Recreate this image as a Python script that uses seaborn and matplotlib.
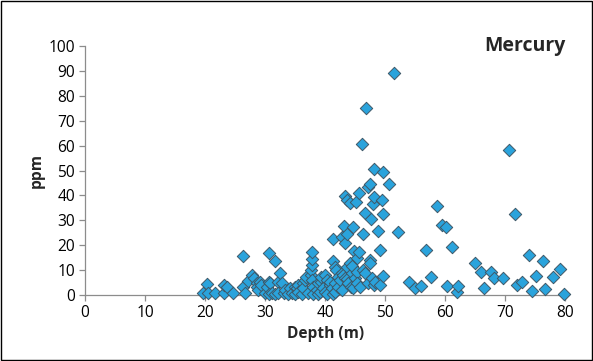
import matplotlib
matplotlib.use("Agg")
import matplotlib.pyplot as plt
import seaborn as sns
import pandas as pd

depth = [19.7, 20.3, 20.5, 21.7, 23.1, 23.1, 23.6, 24.7, 26.4, 26.4, 26.7, 27.2, 27.8, 28.1,
         28.6, 28.6, 28.9, 29.2, 29.4, 30.0, 30.3, 30.6, 30.6, 30.8, 30.6, 31.1, 31.7, 31.7,
         32.2, 32.2, 32.5, 32.8, 33.1, 33.3, 33.9, 34.2, 34.5, 35.0, 35.0, 35.3, 35.5, 35.5,
         36.1, 36.4, 36.4, 36.7, 36.9, 37.2, 37.6, 37.6, 37.8, 37.8, 37.8, 37.8, 38.0, 38.0,
         38.6, 38.9, 38.9, 39.2, 39.4, 39.4, 39.7, 40.0, 40.0, 40.3, 40.3, 40.8, 40.8, 41.1,
         41.3, 41.4, 41.4, 41.7, 41.7, 41.7, 41.9, 42.2, 42.2, 42.5, 42.8, 42.8, 42.8, 43.0,
         43.1, 43.3, 43.3, 43.3, 43.6, 43.6, 43.6, 43.6, 43.9, 44.2, 44.2, 44.4, 44.5, 44.5,
         44.7, 44.7, 44.8, 45.0, 45.1, 45.3, 45.3, 45.3, 45.6, 45.7, 45.8, 46.3, 46.3, 46.2,
         46.7, 46.7, 46.8, 47.2, 47.2, 47.4, 47.5, 47.5, 47.7, 47.8, 47.9, 48.1, 48.1, 48.2,
         48.3, 48.8, 49.1, 49.2, 49.4, 49.6, 49.7, 49.7, 50.7, 51.4, 52.2, 53.9, 55.0, 55.9,
         56.8, 57.6, 58.6, 59.4, 60.2, 60.3, 61.1, 61.9, 62.2, 65.0, 66.0, 66.5, 67.6, 68.2,
         69.6, 70.6, 71.7, 71.9, 72.8, 73.9, 74.4, 75.1, 76.3, 76.7, 77.9, 79.2, 79.8]
ppm = [1.0, 4.4, 1.0, 1.0, 1.0, 4.0, 3.4, 1.0, 15.7, 3.1, 0.7, 5.7, 8.0, 6.7,
       4.7, 3.4, 2.0, 5.3, 4.0, 1.0, 3.4, 16.7, 5.3, 4.7, 0.5, 1.0, 13.8, 0.5,
       5.3, 1.0, 8.7, 4.9, 1.0, 2.0, 0.5, 2.7, 1.0, 3.4, 0.5, 2.7, 4.0, 1.3,
       0.5, 4.7, 2.7, 6.0, 7.3, 1.0, 8.0, 10.0, 12.0, 14.5, 17.4, 6.0, 3.3, 0.5,
       2.0, 4.7, 0.5, 1.3, 5.3, 7.3, 2.7, 8.0, 1.3, 6.0, 0.5, 4.0, 5.3, 2.7,
       13.8, 0.3, 22.4, 11.4, 4.7, 1.3, 10.0, 7.3, 3.4, 6.0, 8.7, 23.2, 2.0, 8.0,
       27.7, 20.8, 39.8, 6.7, 38.2, 24.5, 11.4, 6.3, 4.7, 36.8, 12.7, 3.3, 8.7, 11.6,
       27.4, 2.7, 17.8, 6.7, 37.5, 14.7, 9.4, 4.7, 17.4, 40.8, 3.3, 24.4, 10.0, 60.6,
       33.1, 8.7, 75.1, 43.5, 4.7, 14.0, 44.6, 12.7, 30.4, 6.7, 36.4, 50.6, 4.0, 39.5,
       5.3, 25.8, 18.1, 4.0, 38.2, 49.3, 32.5, 7.6, 44.6, 89.3, 25.4, 5.4, 2.7, 3.6,
       18.1, 7.1, 35.9, 28.1, 27.4, 3.6, 19.4, 1.3, 3.6, 12.7, 9.4, 2.7, 9.4, 7.0,
       7.0, 58.2, 32.5, 4.0, 5.1, 16.1, 1.7, 7.6, 13.7, 2.3, 7.4, 10.3, 0.4]

x_ticks = [0, 10, 20, 30, 40, 50, 60, 70, 80]
y_ticks = [0, 10, 20, 30, 40, 50, 60, 70, 80, 90, 100]

df = pd.DataFrame({"Depth": depth, "ppm": ppm})

sns.set_style("white")
plt.rcParams['font.family'] = ['Open Sans', 'DejaVu Sans']

fig = plt.figure(figsize=(5.93, 3.61), dpi=100)
ax = fig.add_axes([0.1433, 0.1828, 0.8098, 0.6898])

sns.scatterplot(data=df, x="Depth", y="ppm", marker="D", s=40,
                color="#2AA3DC", edgecolor="#3e5868", linewidth=0.7, ax=ax, zorder=3, clip_on=False)

ax.set_xlim(0, 80)
ax.set_ylim(0, 100)
ax.set_xticks(x_ticks)
ax.set_yticks(y_ticks)
ax.set_xticklabels([str(t) for t in x_ticks], fontsize=11.2)
ax.set_yticklabels([str(t) for t in y_ticks], fontsize=11.2)
for s in ["top", "right"]:
    ax.spines[s].set_visible(False)
for s in ["left", "bottom"]:
    ax.spines[s].set_color("#8c8c8c")
    ax.spines[s].set_linewidth(0.9)
ax.tick_params(axis="both", direction="out", length=4, width=0.9, color="#8c8c8c",
               bottom=True, left=True, pad=3, labelcolor="black")
ax.set_xlabel("Depth (m)", fontsize=11.2, fontweight="bold", labelpad=4)
ax.set_ylabel("ppm", fontsize=11.2, fontweight="bold")
ax.yaxis.set_label_coords(-0.083, 0.5)
ax.text(1.0, 1.0, "Mercury", transform=ax.transAxes, ha="right", va="center",
        fontsize=14, fontweight="bold")

fig.patches.append(plt.Rectangle((0.002, 0.003), 0.996, 0.994, transform=fig.transFigure,
                                 fill=False, edgecolor="black", linewidth=1.0))

fig.savefig("out.png", dpi=100)
